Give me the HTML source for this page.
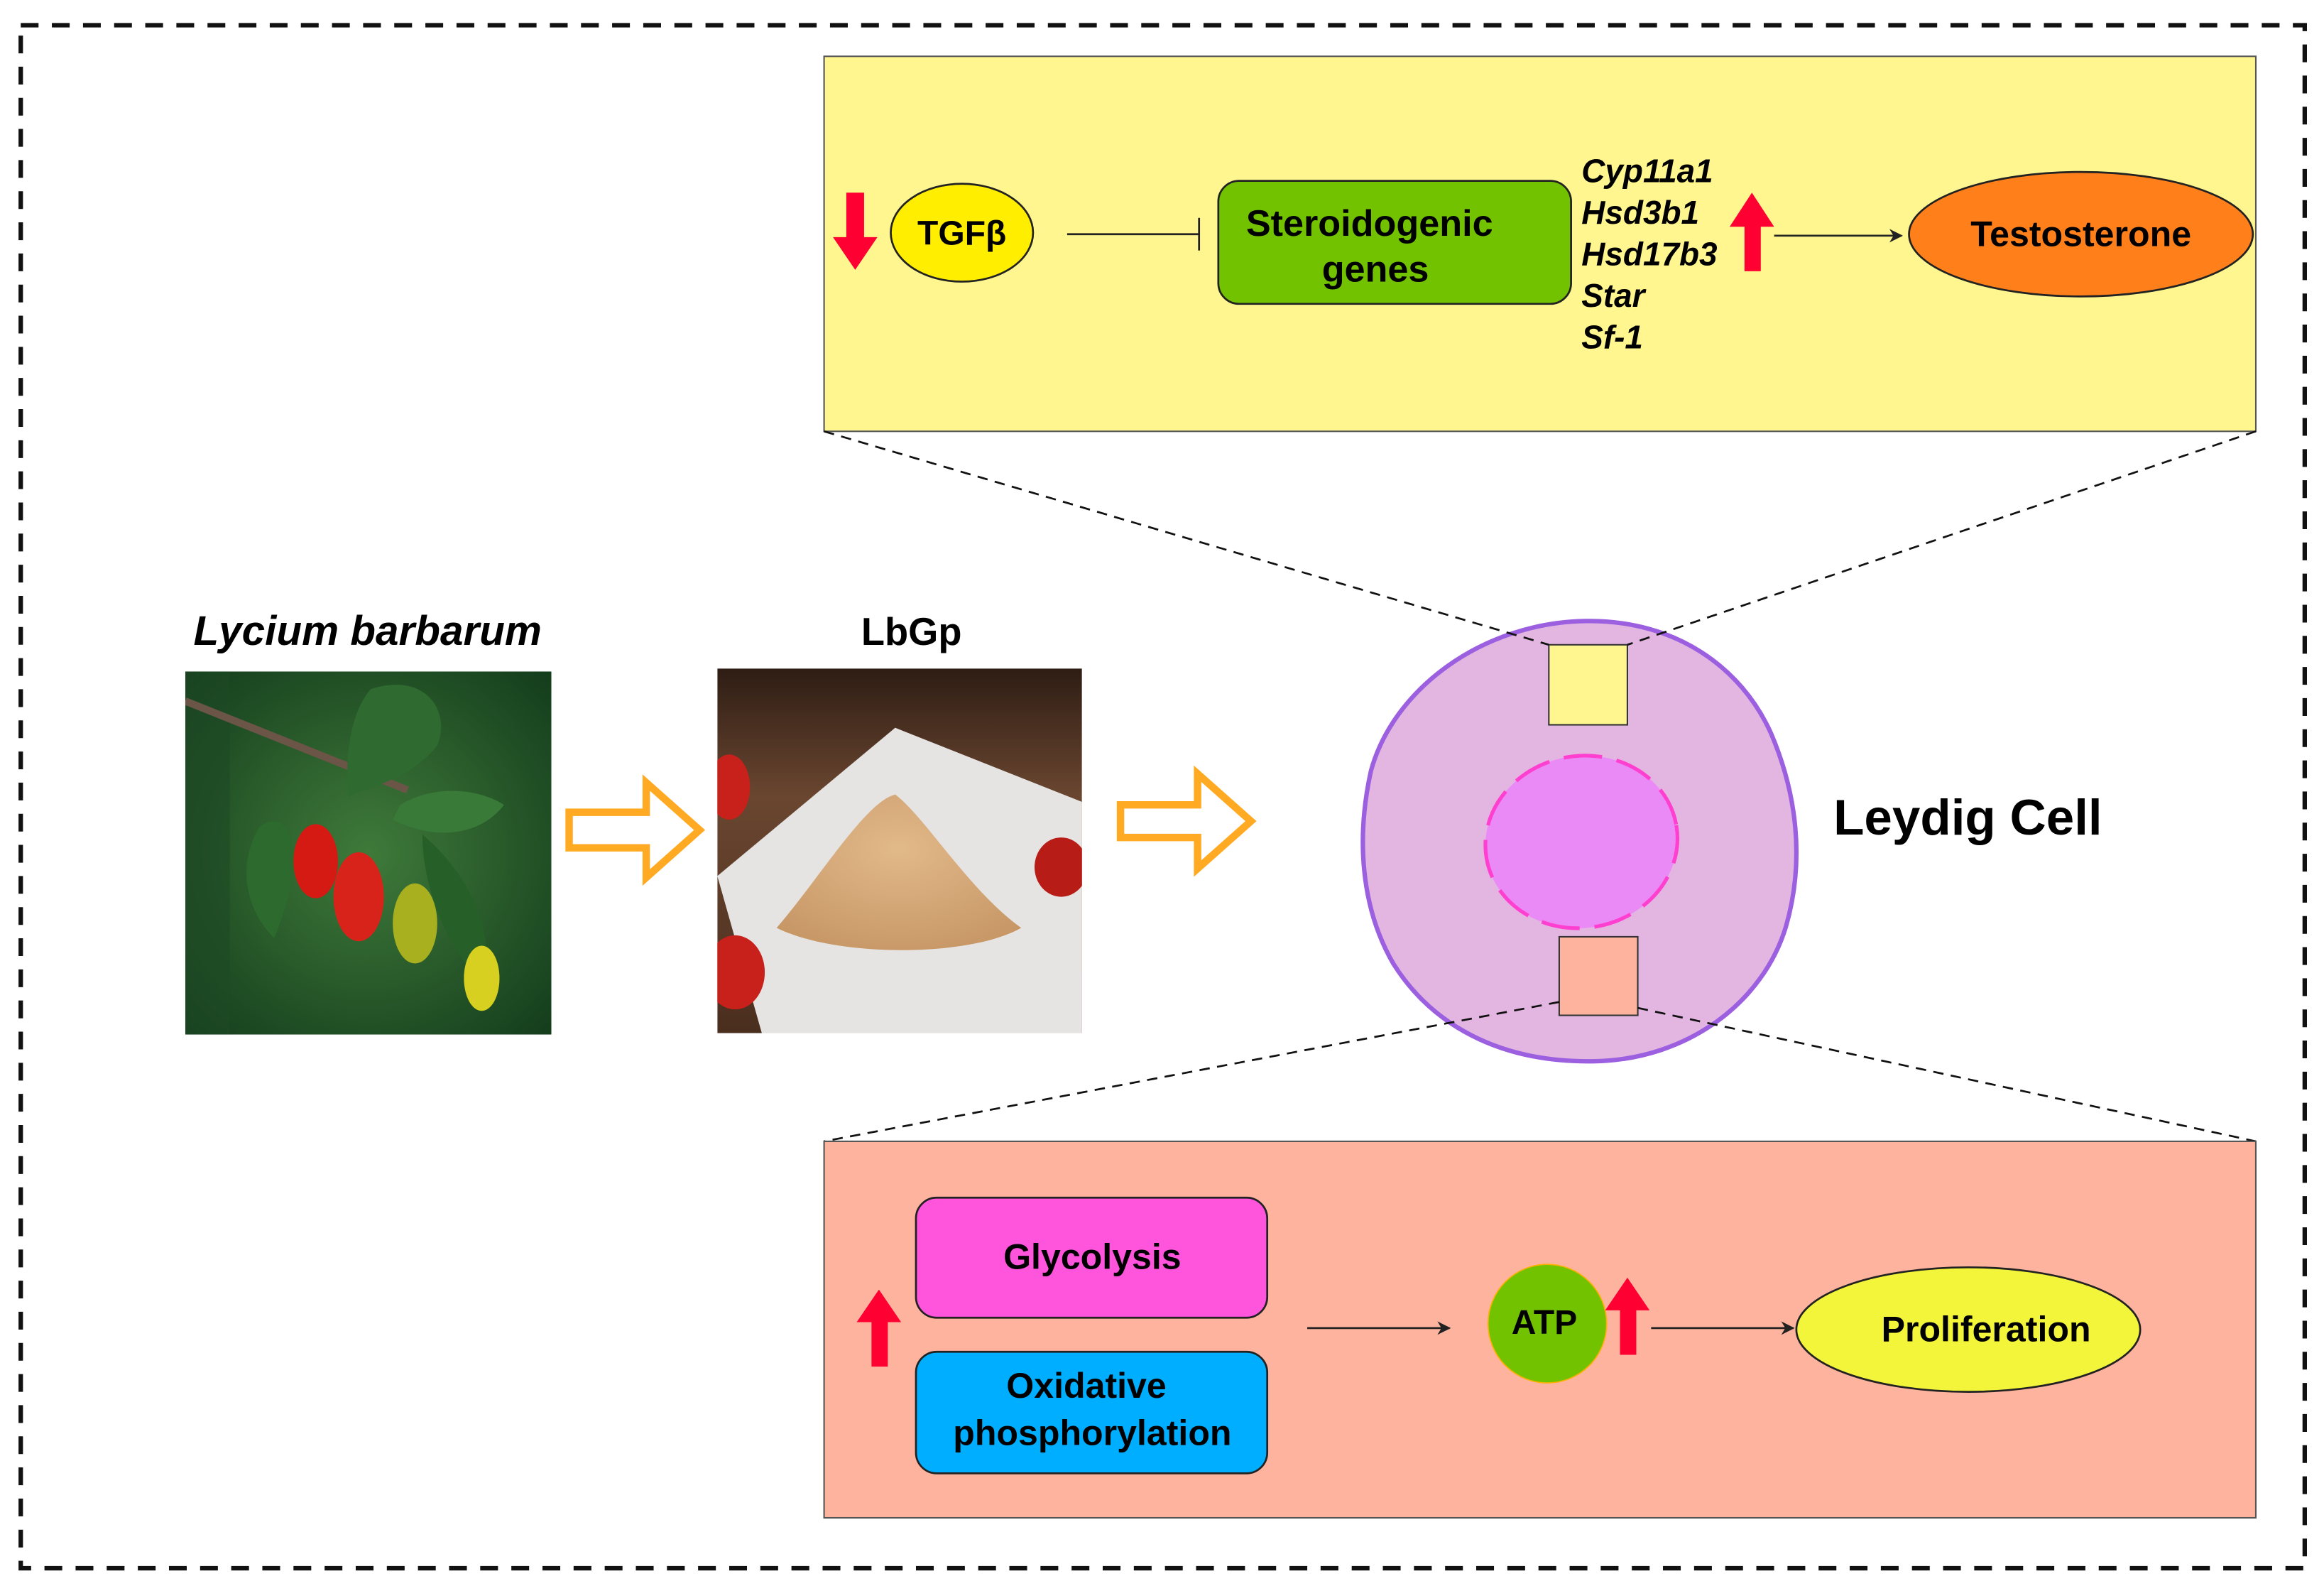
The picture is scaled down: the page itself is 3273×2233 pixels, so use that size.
<!DOCTYPE html>
<html><head><meta charset="utf-8"><style>
html,body{margin:0;padding:0;background:#fff;}
svg{display:block;}
text{font-family:"Liberation Sans",Arial,sans-serif;font-weight:bold;fill:#000;}
</style></head><body>
<svg width="3273" height="2233" viewBox="0 0 1568 1070" preserveAspectRatio="none" xmlns="http://www.w3.org/2000/svg">
<defs>
<marker id="ah" viewBox="0 0 10 10" refX="9" refY="5" markerWidth="7" markerHeight="7" orient="auto"><path d="M0,0 L10,5 L0,10 L3,5 z" fill="#222"/></marker>
<radialGradient id="bg1" cx="0.5" cy="0.5" r="0.7"><stop offset="0" stop-color="#3f7a3a"/><stop offset="1" stop-color="#143d1c"/></radialGradient>
<linearGradient id="bg2" x1="0" y1="0" x2="0" y2="1"><stop offset="0" stop-color="#2e1d14"/><stop offset="0.35" stop-color="#6a4630"/><stop offset="1" stop-color="#4a2e1e"/></linearGradient>
<radialGradient id="pile" cx="0.5" cy="0.35" r="0.7"><stop offset="0" stop-color="#e2b98a"/><stop offset="1" stop-color="#c79766"/></radialGradient>
</defs>
<rect x="14" y="17" width="1541" height="1041" fill="none" stroke="#111" stroke-width="3" stroke-dasharray="12,9"/>

<rect x="556" y="38" width="966" height="253" fill="#fff68f" stroke="#555" stroke-width="1"/>
<polygon points="571,130 583,130 583,160 592,160 577,182 562,160 571,160" fill="#ff0033"/>
<ellipse cx="649" cy="157" rx="48" ry="33" fill="#ffee00" stroke="#222" stroke-width="1.3"/>
<text x="649" y="165" font-size="23" text-anchor="middle">TGFβ</text>
<line x1="720" y1="158" x2="809" y2="158" stroke="#222" stroke-width="1.3"/>
<line x1="809" y1="147" x2="809" y2="169" stroke="#222" stroke-width="1.3"/>
<rect x="822" y="122" width="238" height="83" rx="14" fill="#72c200" stroke="#222" stroke-width="1.3"/>
<text x="924" y="159" font-size="25" text-anchor="middle">Steroidogenic</text>
<text x="928" y="190" font-size="25" text-anchor="middle">genes</text>
<g font-size="22" font-style="italic">
<text x="1067" y="123">Cyp11a1</text>
<text x="1067" y="151">Hsd3b1</text>
<text x="1067" y="179">Hsd17b3</text>
<text x="1067" y="207">Star</text>
<text x="1067" y="235">Sf-1</text>
</g>
<polygon points="1177,183 1188,183 1188,153 1197,153 1182,130 1167,153 1177,153" fill="#ff0033"/>
<line x1="1197" y1="159" x2="1283" y2="159" stroke="#222" stroke-width="1.3" marker-end="url(#ah)"/>
<ellipse cx="1404" cy="158" rx="116" ry="42" fill="#ff801b" stroke="#222" stroke-width="1.3"/>
<text x="1404" y="166" font-size="24" text-anchor="middle">Testosterone</text>

<path d="M1070,419 C1130,418 1175,450 1195,495 C1212,535 1218,580 1205,625 C1190,675 1140,715 1075,716 C1010,717 965,690 940,650 C918,612 915,565 925,520 C940,465 1000,420 1070,419 Z" fill="#e2b6e0" stroke="#9b5fe0" stroke-width="3"/>
<ellipse cx="1067" cy="568" rx="65" ry="58" fill="#e98af6" stroke="#ff3fd0" stroke-width="2.5" stroke-dasharray="26,10" transform="rotate(-10 1067 568)"/>
<rect x="1045" y="435" width="53" height="54" fill="#fff68f" stroke="#333" stroke-width="1"/>
<rect x="1052" y="632" width="53" height="53" fill="#fdb39e" stroke="#333" stroke-width="1"/>

<g stroke="#111" stroke-width="1.3" stroke-dasharray="7,5" fill="none">
<line x1="556" y1="291" x2="1045" y2="435"/>
<line x1="1522" y1="291" x2="1098" y2="435"/>
<line x1="1052" y1="676" x2="556" y2="770"/>
<line x1="1105" y1="680" x2="1522" y2="770"/>
</g>
<text x="1237" y="563" font-size="34">Leydig Cell</text>

<rect x="556" y="770" width="966" height="254" fill="#fdb39e" stroke="#555" stroke-width="1"/>
<polygon points="588,922 599,922 599,892 608,892 593,870 578,892 588,892" fill="#ff0033"/>
<rect x="618" y="808" width="237" height="81" rx="14" fill="#ff55dd" stroke="#222" stroke-width="1.3"/>
<text x="737" y="856" font-size="24" text-anchor="middle">Glycolysis</text>
<rect x="618" y="912" width="237" height="82" rx="14" fill="#00aeff" stroke="#222" stroke-width="1.3"/>
<text x="733" y="943" font-size="24" text-anchor="middle">Oxidative</text>
<text x="737" y="975" font-size="24" text-anchor="middle">phosphorylation</text>
<line x1="882" y1="896" x2="978" y2="896" stroke="#222" stroke-width="1.3" marker-end="url(#ah)"/>
<circle cx="1044" cy="893" r="40" fill="#72c200" stroke="#ffb000" stroke-width="0.8"/>
<text x="1042" y="900" font-size="23" text-anchor="middle">ATP</text>
<polygon points="1093,914 1104,914 1104,884 1113,884 1098,862 1083,884 1093,884" fill="#ff0033"/>
<line x1="1114" y1="896" x2="1210" y2="896" stroke="#222" stroke-width="1.3" marker-end="url(#ah)"/>
<ellipse cx="1328" cy="897" rx="116" ry="42" fill="#f2f53a" stroke="#222" stroke-width="1.3"/>
<text x="1340" y="905" font-size="24" text-anchor="middle">Proliferation</text>

<text x="248" y="435" font-size="28" font-style="italic" text-anchor="middle">Lycium barbarum</text>
<text x="615" y="435" font-size="26" text-anchor="middle">LbGp</text>

<svg x="125" y="453" width="247" height="245" viewBox="0 0 247 245" preserveAspectRatio="none">
<rect width="247" height="245" fill="url(#bg1)"/>
<rect x="0" y="0" width="30" height="245" fill="#1e4a24" opacity="0.6"/>
<path d="M0,20 L150,80" stroke="#6b5547" stroke-width="5"/>
<path d="M125,12 C160,0 180,25 170,50 C150,75 120,78 110,85 C108,60 110,30 125,12Z" fill="#2f6b30"/>
<path d="M145,90 C170,75 200,80 215,90 C200,110 170,115 140,100Z" fill="#3a7a38"/>
<path d="M50,105 C70,90 85,120 60,180 C40,160 35,130 50,105Z" fill="#2c6a2e"/>
<path d="M160,110 C195,140 210,180 200,210 C180,190 160,150 160,110Z" fill="#265f28"/>
<ellipse cx="88" cy="128" rx="15" ry="25" fill="#d41a12"/>
<ellipse cx="117" cy="152" rx="17" ry="30" fill="#d8231a"/>
<ellipse cx="155" cy="170" rx="15" ry="27" fill="#a8b020"/>
<ellipse cx="200" cy="207" rx="12" ry="22" fill="#d8d020"/>
</svg>

<svg x="484" y="451" width="246" height="246" viewBox="0 0 246 246" preserveAspectRatio="none">
<rect width="246" height="246" fill="url(#bg2)"/>
<polygon points="0,140 120,40 246,90 246,246 30,246" fill="#e6e4e2"/>
<path d="M40,175 C70,140 100,90 120,85 C140,100 170,150 205,175 C170,195 80,195 40,175Z" fill="url(#pile)"/>
<ellipse cx="8" cy="80" rx="14" ry="22" fill="#c8201a"/>
<ellipse cx="232" cy="134" rx="18" ry="20" fill="#b81c16"/>
<ellipse cx="12" cy="205" rx="20" ry="25" fill="#c8201a"/>
</svg>

<polygon points="384,548 436,548 436,528 472,560 436,592 436,572 384,572" fill="none" stroke="#ffaa22" stroke-width="5"/>
<polygon points="756,543 808,543 808,522 844,554 808,586 808,565 756,565" fill="none" stroke="#ffaa22" stroke-width="5"/>
</svg>
</body></html>
